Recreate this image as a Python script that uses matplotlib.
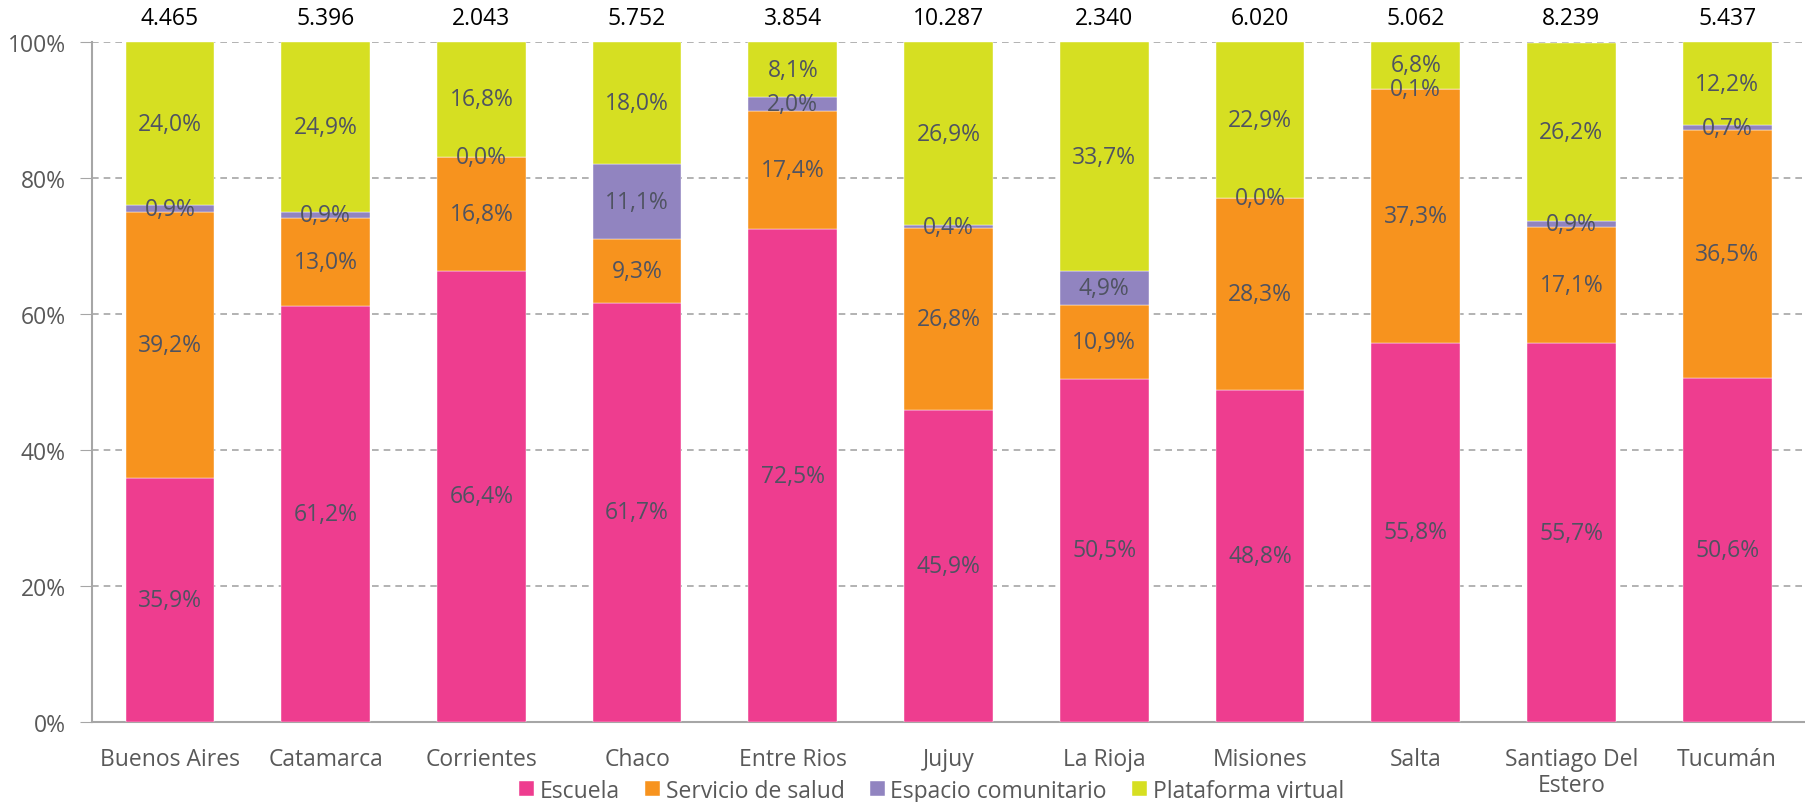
import numpy as np
import matplotlib.pyplot as plt

# Data (percent of each province).
provincias = ['Buenos Aires', 'Catamarca', 'Corrientes', 'Chaco', 'Entre Rios',
              'Jujuy', 'La Rioja', 'Misiones', 'Salta', 'Santiago Del\nEstero',
              'Tucumán']
totales = ['4.465', '5.396', '2.043', '5.752', '3.854', '10.287', '2.340',
           '6.020', '5.062', '8.239', '5.437']
escuela = [35.9, 61.2, 66.4, 61.7, 72.5, 45.9, 50.5, 48.8, 55.8, 55.7, 50.6]
salud = [39.2, 13.0, 16.8, 9.3, 17.4, 26.8, 10.9, 28.3, 37.3, 17.1, 36.5]
comunitario = [0.9, 0.9, 0.0, 11.1, 2.0, 0.4, 4.9, 0.0, 0.1, 0.9, 0.7]
virtual = [24.0, 24.9, 16.8, 18.0, 8.1, 26.9, 33.7, 22.9, 6.8, 26.2, 12.2]

series = [('Escuela', escuela, '#EE3D8F'),
          ('Servicio de salud', salud, '#F7931E'),
          ('Espacio comunitario', comunitario, '#9184C0'),
          ('Plataforma virtual', virtual, '#D6DF22')]

plt.rcParams['font.family'] = ['Open Sans', 'DejaVu Sans']
gray = '#595959'
lab_col = '#4F5361'
fs = 16.5

fig = plt.figure(figsize=(18.05, 8.03), dpi=100)
ax = fig.add_axes([0.051, 0.0996, 0.949, 0.8464])

x = np.arange(len(provincias))
bottom = np.zeros(len(provincias))
for name, vals, col in series:
    vals = np.array(vals)
    ax.bar(x, vals, 0.57, bottom=bottom, color=col, label=name,
           edgecolor='white', linewidth=0.3, zorder=3)
    for xi, b, v in zip(x, bottom, vals):
        ax.text(xi, b + v / 2, f'{v:.1f}%'.replace('.', ','), ha='center',
                va='center', fontsize=fs, color=lab_col, zorder=4)
    bottom += vals

for xi, t in zip(x, totales):
    ax.text(xi, 103.6, t, ha='center', va='center', fontsize=fs,
            color='black')

ax.set_xlim(-0.5, len(provincias) - 0.5)
ax.set_ylim(0, 100)
ax.set_yticks(np.arange(0, 101, 20))
ax.set_yticklabels([f'{v}%' for v in range(0, 101, 20)])
ax.set_xticks(x)
ax.set_xticklabels(provincias, linespacing=1.1)
ax.tick_params(axis='y', length=9, color='#A6A6A6', labelsize=fs,
               labelcolor=gray, pad=10)
ax.tick_params(axis='x', length=0, labelsize=fs, labelcolor=gray, pad=18)
ax.yaxis.grid(True, color='#A6A6A6', linestyle=(0, (4, 3)), linewidth=1.2,
              zorder=0)
for s in ['top', 'right']:
    ax.spines[s].set_visible(False)
for s in ['left', 'bottom']:
    ax.spines[s].set_color('#A6A6A6')
    ax.spines[s].set_linewidth(1.5)

leg = fig.legend(loc='center', bbox_to_anchor=(0.516, 0.014), ncol=4,
                 frameon=False, fontsize=fs, handlelength=0.65,
                 handleheight=0.65, handletextpad=0.25, columnspacing=1.1)
for t in leg.get_texts():
    t.set_color(gray)

fig.savefig('out.png', dpi=100)
